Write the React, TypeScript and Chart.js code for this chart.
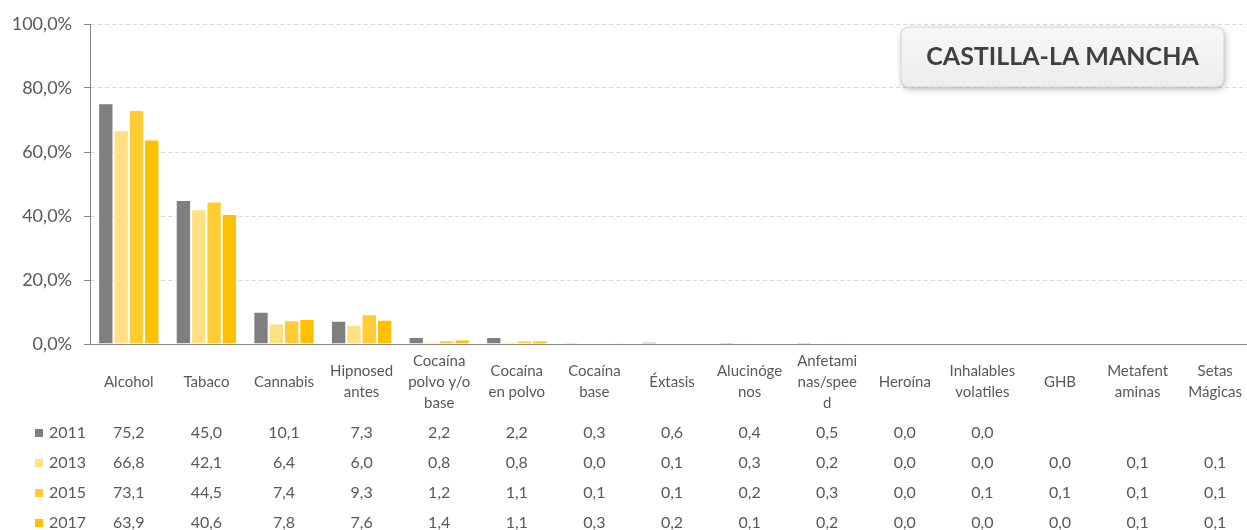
import React, { useEffect, useRef } from "react";
import { Chart, registerables } from "chart.js";

Chart.register(...registerables);

const categories: string[][] = [
  ["Alcohol"],
  ["Tabaco"],
  ["Cannabis"],
  ["Hipnosed", "antes"],
  ["Cocaína", "polvo y/o", "base"],
  ["Cocaína", "en polvo"],
  ["Cocaína", "base"],
  ["Éxtasis"],
  ["Alucinóge", "nos"],
  ["Anfetami", "nas/spee", "d"],
  ["Heroína"],
  ["Inhalables", "volatiles"],
  ["GHB"],
  ["Metafent", "aminas"],
  ["Setas", "Mágicas"],
];

const years: string[] = ["2011", "2013", "2015", "2017"];

const values2011: (number | null)[] = [75.2, 45.0, 10.1, 7.3, 2.2, 2.2, 0.3, 0.6, 0.4, 0.5, 0.0, 0.0, null, null, null];
const values2013: (number | null)[] = [66.8, 42.1, 6.4, 6.0, 0.8, 0.8, 0.0, 0.1, 0.3, 0.2, 0.0, 0.0, 0.0, 0.1, 0.1];
const values2015: (number | null)[] = [73.1, 44.5, 7.4, 9.3, 1.2, 1.1, 0.1, 0.1, 0.2, 0.3, 0.0, 0.1, 0.1, 0.1, 0.1];
const values2017: (number | null)[] = [63.9, 40.6, 7.8, 7.6, 1.4, 1.1, 0.3, 0.2, 0.1, 0.2, 0.0, 0.0, 0.0, 0.1, 0.1];

const seriesColors: string[] = ["#7F7F7F", "#FFE084", "#FFCC33", "#FFC000"];

const yTicks: number[] = [0, 20, 40, 60, 80, 100];

const titleText = "CASTILLA-LA MANCHA";

const FONT = "Lato, 'Open Sans', sans-serif";
const TEXT_COLOR = "#595959";

const fmt = (v: number) => v.toFixed(1).replace(".", ",");

const tablePlugin = {
  id: "dataTable",
  afterDraw(chart: any) {
    const ctx = chart.ctx as CanvasRenderingContext2D;
    const xs = chart.scales.x;
    const area = chart.chartArea;
    const series = [values2011, values2013, values2015, values2017];
    ctx.save();
    ctx.font = `16px ${FONT}`;
    ctx.textBaseline = "middle";
    series.forEach((vals, r) => {
      const y = area.bottom + 89 + r * 30;
      ctx.fillStyle = seriesColors[r];
      ctx.fillRect(35, y - 4, 8, 8);
      ctx.fillStyle = TEXT_COLOR;
      ctx.textAlign = "left";
      ctx.fillText(years[r], 49, y);
      ctx.textAlign = "center";
      vals.forEach((v, i) => {
        if (v === null || v === undefined) return;
        ctx.fillText(fmt(v), xs.getPixelForValue(i), y);
      });
    });
    ctx.restore();

    // title box
    const bx = 901, by = 27, bw = 323, bh = 60, rad = 8;
    ctx.save();
    ctx.shadowColor = "rgba(0,0,0,0.3)";
    ctx.shadowBlur = 6;
    ctx.shadowOffsetX = 1;
    ctx.shadowOffsetY = 2;
    const g = ctx.createLinearGradient(0, by, 0, by + bh);
    g.addColorStop(0, "#F7F7F7");
    g.addColorStop(1, "#EDEDED");
    ctx.fillStyle = g;
    ctx.beginPath();
    (ctx as any).roundRect(bx, by, bw, bh, rad);
    ctx.fill();
    ctx.shadowColor = "transparent";
    ctx.strokeStyle = "#D4D4D4";
    ctx.lineWidth = 1;
    ctx.stroke();
    ctx.fillStyle = "#404040";
    ctx.font = `bold 25px ${FONT}`;
    ctx.textAlign = "center";
    ctx.textBaseline = "middle";
    ctx.fillText(titleText, bx + bw / 2, by + bh / 2);
    ctx.restore();
  },
};

export default function App() {
  const ref = useRef<HTMLCanvasElement | null>(null);

  useEffect(() => {
    document.body.style.margin = "0";
    document.body.style.overflow = "hidden";
    document.documentElement.style.overflow = "hidden";
    if (!ref.current) return;
    const series = [values2011, values2013, values2015, values2017];
    const chart = new Chart(ref.current, {
      type: "bar",
      data: {
        labels: categories,
        datasets: series.map((vals, i) => ({
          label: years[i],
          data: vals,
          backgroundColor: seriesColors[i],
          borderColor: "#FFFFFF",
          borderWidth: 1,
          categoryPercentage: 0.79,
          barPercentage: 1.0,
        })),
      },
      options: {
        responsive: false,
        animation: false,
        devicePixelRatio: 1,
        layout: { padding: { top: 24, left: 0, right: 0, bottom: 0 } },
        plugins: {
          legend: { display: false },
          tooltip: { enabled: false },
        },
        scales: {
          x: {
            grid: { display: false, drawOnChartArea: false, drawTicks: false },
            border: { display: true, color: "#868686", width: 1 },
            ticks: {
              autoSkip: false,
              maxRotation: 0,
              minRotation: 0,
              crossAlign: "center",
              padding: 17,
              color: TEXT_COLOR,
              font: { family: FONT, size: 15, lineHeight: 1.4 },
            },
            afterFit: (scale: any) => {
              scale.height = 186;
              scale.paddingLeft = 0;
              scale.paddingRight = 0;
            },
          },
          y: {
            min: 0,
            max: 100,
            afterBuildTicks: (scale: any) => {
              scale.ticks = yTicks.map((v) => ({ value: v }));
            },
            grid: {
              color: "#D9D9D9",
              lineWidth: 1,
              tickLength: 6,
              tickColor: "#868686",
              tickBorderDash: [],
            },
            border: { display: true, color: "#868686", width: 1, dash: [4, 3] },
            ticks: {
              padding: 12,
              color: TEXT_COLOR,
              font: { family: FONT, size: 18 },
              callback: (v: any) => fmt(Number(v)) + "%",
            },
            afterFit: (scale: any) => {
              scale.width = 90;
            },
          },
        },
      },
      plugins: [tablePlugin],
    } as any);
    return () => chart.destroy();
  }, []);

  return (
    <div style={{ width: 1254, height: 530, position: "relative" }}>
      <canvas ref={ref} width={1254} height={530} />
    </div>
  );
}
